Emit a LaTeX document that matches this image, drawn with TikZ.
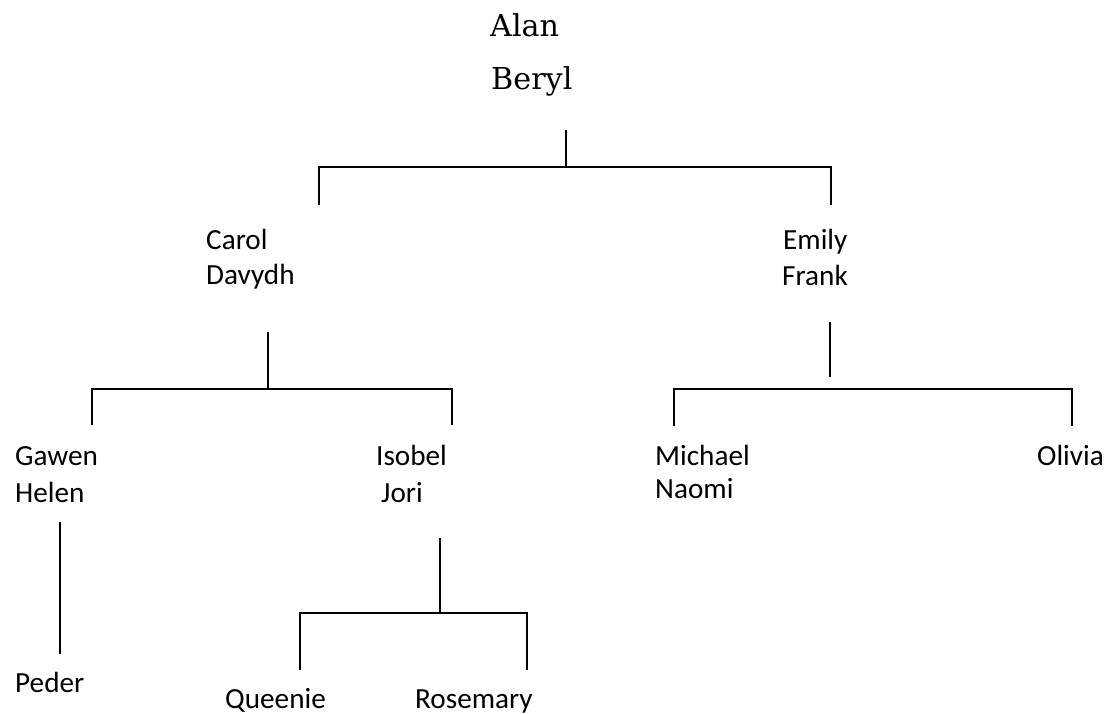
\documentclass[tikz,border=0pt]{standalone}
\usepackage{fontspec}
\setmainfont{Carlito}
\newfontfamily\topfont{DejaVu Serif}
\begin{document}
\begin{tikzpicture}[x=1pt,y=-1pt,
  person/.style={anchor=base west,inner sep=0pt,font=\fontsize{29.2}{34}\selectfont},
  topperson/.style={anchor=base west,inner sep=0pt,font=\topfont\fontsize{30.2}{34}\selectfont},
  link/.style={line width=1.6pt,line cap=butt,line join=miter}]
\useasboundingbox (0,0) rectangle (1109,713);
% people
\node[topperson] (alan) at (490,36) {Alan};
\node[topperson] (beryl) at (491,89) {Beryl};
\node[person] (carol) at (206,249) {Carol};
\node[person] (davydh) at (206,284) {Davydh};
\node[person] (emily) at (783,249) {Emily};
\node[person] (frank) at (782,285) {Frank};
\node[person] (gawen) at (15,465) {Gawen};
\node[person] (helen) at (15,502) {Helen};
\node[person] (isobel) at (376,465) {Isobel};
\node[person] (jori) at (381,502) {Jori};
\node[person] (michael) at (655,465) {Michael};
\node[person] (naomi) at (655,498) {Naomi};
\node[person] (olivia) at (1037,465) {Olivia};
\node[person] (peder) at (15,692) {Peder};
\node[person] (queenie) at (225,708) {Queenie};
\node[person] (rosemary) at (415,708) {Rosemary};
% connector points
\coordinate (ab) at (566,130);
\coordinate (abj) at (566,167);
\coordinate (abl) at (319,167);
\coordinate (abr) at (831,167);
\coordinate (cdin) at (319,205);
\coordinate (efin) at (831,205);
\coordinate (cd) at (268,332);
\coordinate (cdj) at (268,389);
\coordinate (cdl) at (92,389);
\coordinate (cdr) at (452,389);
\coordinate (ghin) at (92,425);
\coordinate (ijin) at (452,425);
\coordinate (ef) at (830,322);
\coordinate (efj) at (830,377);
\coordinate (efl) at (674,389);
\coordinate (efr) at (1072,389);
\coordinate (mnin) at (674,426);
\coordinate (oin) at (1072,426);
\coordinate (gh) at (60,522);
\coordinate (pin) at (60,654);
\coordinate (ij) at (440,538);
\coordinate (ijj) at (440,613);
\coordinate (ijl) at (300,613);
\coordinate (ijr) at (527,613);
\coordinate (qin) at (300,670);
\coordinate (rin) at (527,670);
% connectors
\draw[link] (ab) -- (abj);
\draw[link] (cdin) -- (abl) -- (abr) -- (efin);
\draw[link] (cd) -- (cdj);
\draw[link] (ghin) -- (cdl) -- (cdr) -- (ijin);
\draw[link] (ef) -- (efj);
\draw[link] (mnin) -- (efl) -- (efr) -- (oin);
\draw[link] (gh) -- (pin);
\draw[link] (ij) -- (ijj);
\draw[link] (qin) -- (ijl) -- (ijr) -- (rin);
\end{tikzpicture}
\end{document}
